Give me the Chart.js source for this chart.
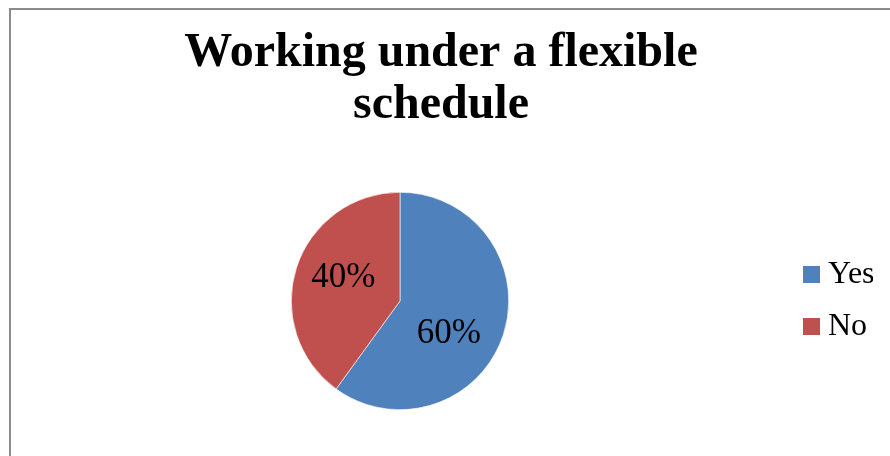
<!DOCTYPE html>
<html>
<head>
<meta charset="utf-8">
<script src="https://cdn.jsdelivr.net/npm/chart.js@4.4.0/dist/chart.umd.min.js"></script>
<style>
  html, body { margin: 0; padding: 0; background: #fff; }
  #wrap { position: relative; width: 890px; height: 456px; overflow: hidden; }
  #frame { position: absolute; left: 9px; top: 8px; width: 900px; height: 460px;
           border-left: 2px solid #8c8c8c; border-top: 2px solid #8c8c8c; }
  canvas { position: absolute; left: 0; top: 0; }
</style>
</head>
<body>
<div id="wrap">
  <div id="frame"></div>
  <canvas id="pie-canvas" width="890" height="456"></canvas>
</div>
<script>
// data
const titleLines = ['Working under a flexible', 'schedule'];
const categories = ['Yes', 'No'];
const shares     = [60, 40];
const colors     = ['#4F81BD', '#C0504D'];

const serif = "'Liberation Serif', 'Times New Roman', serif";

// small square swatches for the legend (keeps the text close to the box)
const swatches = colors.map(c => {
  const cv = document.createElement('canvas');
  cv.width = 17; cv.height = 17;
  const g = cv.getContext('2d');
  g.fillStyle = c;
  g.fillRect(0, 0, 17, 17);
  return cv;
});

// percent labels drawn inside each slice
const sliceLabels = {
  id: 'sliceLabels',
  afterDatasetsDraw(chart) {
    const { ctx } = chart;
    const meta = chart.getDatasetMeta(0);
    const total = shares.reduce((s, v) => s + v, 0);
    ctx.save();
    ctx.font = '35px ' + serif;
    ctx.fillStyle = '#000';
    ctx.textAlign = 'center';
    ctx.textBaseline = 'middle';
    meta.data.forEach((arc, i) => {
      const { x, y, startAngle, endAngle, outerRadius } = arc.getProps(
        ['x', 'y', 'startAngle', 'endAngle', 'outerRadius'], true);
      const mid = (startAngle + endAngle) / 2 + Math.PI / 18;
      const r = outerRadius * 0.55;
      const pct = Math.round(shares[i] / total * 100) + '%';
      // nudge a little left/down, like the original's label placement
      ctx.fillText(pct, x + Math.cos(mid) * r - 4, y + Math.sin(mid) * r + 5);
    });
    ctx.restore();
  }
};

new Chart(document.getElementById('pie-canvas').getContext('2d'), {
  type: 'pie',
  data: {
    labels: categories,
    datasets: [{
      data: shares,
      backgroundColor: colors,
      borderColor: '#ffffff',
      borderWidth: 0.6
    }]
  },
  options: {
    responsive: false,
    animation: false,
    events: [],
    layout: { padding: { left: 9, top: 0, right: 17, bottom: 46 } },
    plugins: {
      title: {
        display: true,
        text: titleLines,
        color: '#000',
        font: { family: serif, size: 48, weight: 'bold', lineHeight: 1.083 },
        padding: { top: 28, bottom: 60 }
      },
      legend: {
        position: 'right',
        fullSize: false,
        maxWidth: 82,
        labels: {
          color: '#000',
          font: { family: serif, size: 32 },
          usePointStyle: true,
          boxWidth: 1,
          boxHeight: 17,
          padding: 20,
          generateLabels(chart) {
            const items = Chart.overrides.pie.plugins.legend.labels.generateLabels(chart);
            items.forEach((it, i) => { it.pointStyle = swatches[i]; });
            return items;
          }
        }
      },
      tooltip: { enabled: false }
    }
  },
  plugins: [sliceLabels]
});
</script>
</body>
</html>
